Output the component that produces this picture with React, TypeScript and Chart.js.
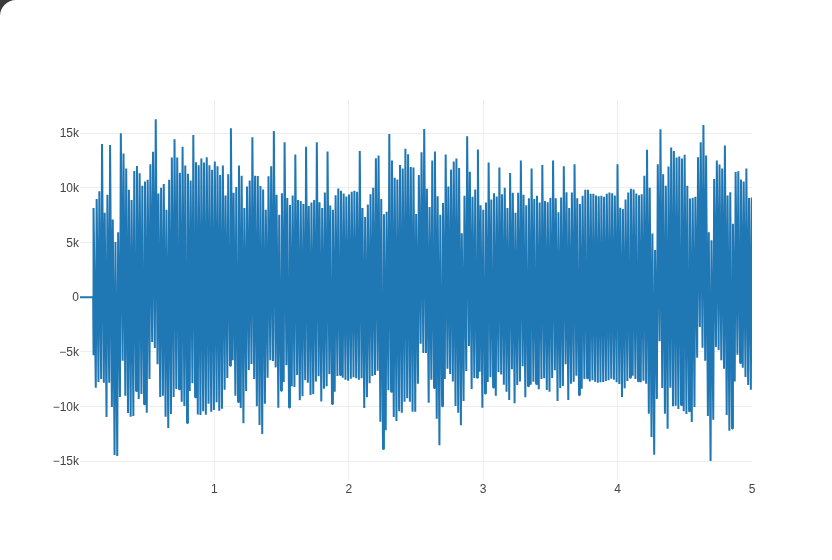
import React, { useEffect, useRef } from "react";
import { Chart, registerables } from "chart.js";

Chart.register(...registerables);

const xTickValues = [1, 2, 3, 4, 5];
const xTickLabels = ["1", "2", "3", "4", "5"];
const yTickValues = [-15000, -10000, -5000, 0, 5000, 10000, 15000];
const yTickLabels = ["\u221215k", "\u221210k", "\u22125k", "0", "5k", "10k", "15k"];

const leadX = [0, 0.098];
const leadY = [0, 0];
const firstX = 0.104;
const lastX = 4.998;

const upperPeaks = [
  8170, 9000, 9708, 14016, 7739, 9370, 13924, 7123, 5062, 5954, 15000, 13154, 11770, 9831, 8908, 11554, 12016, 11339, 10200, 10600,
  10754, 12170, 13308, 16293, 9493, 10016, 10354, 8016, 10754, 12785, 14447, 12785, 11400, 13770, 12046, 11308, 10693, 14846, 12354, 12077,
  12693, 12323, 12816, 12077, 11677, 12416, 11986, 11185, 12046, 9308, 11246, 15462, 9554, 10077, 12046, 11123, 8170, 10139, 10693, 14631,
  11123, 11093, 10170, 9862, 8016, 11062, 11986, 15216, 9370, 7554, 9523, 14170, 9093, 8447, 9308, 13062, 8908, 8816, 8539, 13770, 8354,
  8662, 8908, 14170, 8693, 8170, 9585, 13339, 8385, 8016, 9339, 9954, 9739, 9493, 9216, 9400, 9646, 9739, 9646, 13370, 8170,
  7339, 8477, 9431, 10016, 12723, 12970, 9000, 7585, 7831, 14939, 12508, 10939, 10785, 12108, 11770, 13585, 13093, 11923, 11862, 7616,
  11185, 13277, 15400, 9923, 8262, 12508, 13339, 9246, 7554, 8631, 13062, 10139, 11677, 12416, 12693, 11831, 5862, 9277, 14723, 11493,
  9185, 9862, 13523, 8416, 8016, 8662, 12323, 8939, 9523, 9216, 11862, 9431, 10016, 8170, 11370, 9554, 7739, 9554, 12508, 9370,
  8416, 9062, 11770, 9000, 9277, 8662,
  12108, 8816, 8693, 9093, 12508, 9062, 7770, 9123, 11986, 9616, 8170, 9585, 12170, 9062, 8539, 9277, 9831, 9831, 9462, 9462,
  9308, 9246, 9277, 9185, 9462, 9585, 9523, 9308, 12170, 8200, 8077, 8939, 9585, 9923, 9862, 9493, 9339, 9431, 11123, 13493,
  10016, 5831, 4323, 12170, 15370, 11246, 10200, 11954, 13708, 13370, 12785, 12877, 12693, 13031, 10200, 9031, 9093, 9185, 12816, 14170,
  15770, 12970, 5954, 5216, 10816, 12508, 12139, 11770, 13893, 9308, 9616, 6723, 11462, 11524, 10785, 10600, 11770, 9093, 9123,
];

const lowerPeaks = [
  -5310, -8270, -7750, -7470, -7810, -10950, -7810, -10030, -14430, -14520, -9120, -5800, -9000, -10580, -10920, -10860, -8570, -9300, -8850, -9790,
  -10550, -7470, -4090, -4640, -6130, -9120, -9000, -10920, -11960, -10680, -9120, -8390, -8420, -9550, -9940, -11500, -8570, -7870, -9150, -10710,
  -10770, -10430, -10740, -9730, -10460, -10310, -9610, -10370, -10190, -8450, -7380, -6250, -5760, -9000, -9580, -10130, -11530, -8570, -6650, -6100,
  -7470, -9970, -11680, -12510, -9730, -7350, -5760, -5830, -6410, -10100, -8540, -7750, -6220, -10070, -8140, -8200, -7110, -9420, -9060, -7590, -7810,
  -8940, -8850, -7690, -7230, -9520, -8360, -8140, -7020, -9760, -8630, -7200, -7110, -7350, -7530, -7630, -7440, -7320, -7410, -7530, -7410,
  -10130, -9150, -7870, -7200, -7110, -6710, -11380, -13880, -12170, -8510, -8630, -10950, -11320, -10430, -10550, -9550, -9240, -9550, -10460, -10460,
  -7900, -4240, -5090, -5090, -9640, -7530, -8300, -11100, -13540, -9970, -7470, -6530, -7020, -7690, -9940, -10550, -11710, -9490, -6740, -4450,
  -8390, -7380, -7350, -6800, -10100, -8810, -7750, -7320, -8240, -9000, -6830, -7050, -7990, -8630, -9390, -6590, -9700, -8020, -7690, -6310,
  -9150, -8140, -7990, -7720, -7930, -8420,
  -7470, -7410, -8480, -8630, -7380, -6680, -9490, -8300, -8110, -6130, -9390, -7900, -7720, -7170, -8940, -8360, -7470, -7410, -7690, -7590,
  -7720, -7810, -7780, -7750, -7660, -7590, -7440, -7530, -7780, -7930, -9120, -8330, -7660, -7350, -7170, -7470, -7690, -7780, -7630, -7900,
  -10640, -12780, -14400, -9300, -4030, -8300, -10640, -12020, -8270, -9970, -9910, -10220, -9850, -10430, -10680, -10430, -11410, -10030, -5520, -2710,
  -4610, -5800, -10860, -14980, -11190, -4540, -4820, -5760, -6530, -10770, -12200, -11990, -7690, -5250, -6010, -6440, -7290, -8020, -8450,
];

const xRange = [0, 5];
const yRange = [-16711, 18046];

const nudgeYLabels = {
  id: "nudgeYLabels",
  beforeDraw(chart: any) {
    const items = chart.scales.y.getLabelItems();
    items.forEach((item: any) => {
      if (!item.nudged) {
        item.options.translation[1] += 0.6;
        item.nudged = true;
      }
    });
  },
};

export default function App() {
  const canvasRef = useRef<HTMLCanvasElement>(null);

  useEffect(() => {
    const step = (lastX - firstX) / (upperPeaks.length - 1);
    const points: { x: number; y: number }[] = leadX.map((x, i) => ({ x, y: leadY[i] }));
    upperPeaks.forEach((v, i) => {
      if (i < lowerPeaks.length) points.push({ x: firstX + step * (i - 0.33), y: lowerPeaks[i] });
      points.push({ x: firstX + step * i, y: v });
    });

    const chart = new Chart(canvasRef.current!, {
      type: "line",
      plugins: [nudgeYLabels],
      data: {
        datasets: [
          {
            data: points,
            borderColor: "#1f77b4",
            borderWidth: 2,
            borderJoinStyle: "bevel",
            pointRadius: 0,
            tension: 0,
            fill: false,
          },
        ],
      },
      options: {
        animation: false,
        responsive: false,
        parsing: false as any,
        normalized: true,
        events: [],
        layout: { padding: { top: 100, right: 80, left: 0, bottom: 0 } },
        plugins: { legend: { display: false }, tooltip: { enabled: false }, title: { display: false } },
        scales: {
          x: {
            type: "linear",
            min: xRange[0],
            max: xRange[1],
            afterBuildTicks: (s: any) => {
              s.ticks = xTickValues.map((value) => ({ value }));
            },
            afterFit: (s: any) => {
              s.height = 80;
            },
            border: { display: false },
            grid: {
              color: (c: any) => (c.tick && c.tick.value === xRange[1] ? "rgba(0,0,0,0)" : "#eeeeee"),
              lineWidth: 1,
              drawTicks: false,
            },
            ticks: {
              maxRotation: 0,
              autoSkip: false,
              padding: 2,
              color: "#444444",
              font: { family: "'Liberation Sans', Arial, sans-serif", size: 12 },
              callback: (v: any) => xTickLabels[xTickValues.indexOf(Number(v))] ?? "",
            },
          },
          y: {
            type: "linear",
            min: yRange[0],
            max: yRange[1],
            afterBuildTicks: (s: any) => {
              s.ticks = yTickValues.map((value) => ({ value }));
            },
            afterFit: (s: any) => {
              s.width = 80;
            },
            border: { display: false },
            grid: { color: "#eeeeee", lineWidth: 1, drawTicks: false },
            ticks: {
              autoSkip: false,
              padding: 1,
              color: "#444444",
              font: { family: "'Liberation Sans', Arial, sans-serif", size: 12 },
              callback: (v: any) => yTickLabels[yTickValues.indexOf(Number(v))] ?? "",
            },
          },
        },
      },
    });
    return () => chart.destroy();
  }, []);

  return (
    <div style={{ position: "fixed", inset: 0, background: "#3a3a3a", overflow: "hidden" }}>
      <div style={{ position: "absolute", inset: 0, background: "#ffffff", borderTopLeftRadius: 16 }}>
        <canvas ref={canvasRef} width={832} height={560} style={{ display: "block" }} />
      </div>
    </div>
  );
}
